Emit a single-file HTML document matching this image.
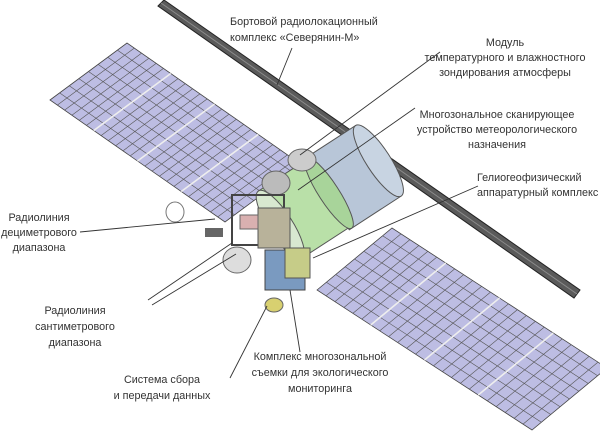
<!DOCTYPE html>
<html><head><meta charset="utf-8"><style>
body{margin:0;background:#fff;width:600px;height:439px;overflow:hidden}
svg{display:block}
text{font-family:"Liberation Sans","DejaVu Sans",sans-serif;font-size:10.8px;fill:#333}
</style></head><body>
<svg id="s" width="600" height="439" viewBox="0 0 600 439">
<g id="panels"></g>
<g>
<polygon points="158,6 164,0 580,290 574,298" fill="#5a5a5a" stroke="#222" stroke-width="1"/>
<line x1="161" y1="3" x2="577" y2="294" stroke="#8a8a8a" stroke-width="1"/>
</g>
<g>
<g transform="translate(318,200) rotate(-33)">
<rect x="10" y="-42" width="62" height="84" fill="#b8c6d8" stroke="#555"/>
<ellipse cx="72" cy="0" rx="12" ry="42" fill="#c8d4e2" stroke="#555"/>
<rect x="-45" y="-40" width="58" height="80" fill="#b9e0a8" stroke="#555"/>
<ellipse cx="13" cy="0" rx="10" ry="42" fill="#a8d49a" stroke="#555"/>
<ellipse cx="-45" cy="0" rx="12" ry="40" fill="#d8e8d0" stroke="#555"/>
</g>
<ellipse cx="302" cy="160" rx="14" ry="11" fill="#ccc" stroke="#666"/>
<ellipse cx="276" cy="183" rx="14" ry="12" fill="#bbb" stroke="#666"/>
<rect x="232" y="195" width="52" height="50" fill="none" stroke="#444" stroke-width="2"/>
<rect x="258" y="208" width="32" height="40" fill="#b8b29a" stroke="#555"/>
<rect x="240" y="215" width="18" height="14" fill="#d9b0b0" stroke="#666"/>
<ellipse cx="237" cy="260" rx="14" ry="13" fill="#ddd" stroke="#666"/>
<rect x="265" y="250" width="40" height="40" fill="#7a9ac0" stroke="#444"/>
<rect x="285" y="248" width="25" height="30" fill="#c6cc88" stroke="#555"/>
<ellipse cx="274" cy="305" rx="9" ry="7" fill="#d8d070" stroke="#666"/>
<ellipse cx="175" cy="212" rx="9" ry="10" fill="none" stroke="#777"/>
<rect x="205" y="228" width="18" height="9" fill="#666"/>
</g>
<g stroke="#333" stroke-width="0.9">
<line x1="292" y1="48" x2="277" y2="85"/>
<line x1="440" y1="52" x2="300" y2="155"/>
<line x1="415" y1="108" x2="298" y2="190"/>
<line x1="478" y1="186" x2="313" y2="258"/>
<line x1="80" y1="232" x2="215" y2="219"/>
<line x1="148" y1="300" x2="232" y2="243"/>
<line x1="152" y1="305" x2="236" y2="254"/>
<line x1="230" y1="378" x2="267" y2="306"/>
<line x1="300" y1="352" x2="290" y2="290"/>
</g>
<g><text x="230" y="25">Бортовой радиолокационный</text><text x="230" y="41">комплекс «Северянин-М»</text></g>
<g text-anchor="middle"><text x="505" y="46">Модуль</text><text x="505" y="61">температурного и влажностного</text><text x="505" y="76">зондирования атмосферы</text></g>
<g text-anchor="middle"><text x="497" y="118">Многозональное сканирующее</text><text x="497" y="133">устройство метеорологического</text><text x="497" y="148">назначения</text></g>
<g><text x="477" y="181">Гелиогеофизический</text><text x="477" y="196">аппаратурный комплекс</text></g>
<g text-anchor="middle"><text x="39" y="221">Радиолиния</text><text x="39" y="236">дециметрового</text><text x="39" y="251">диапазона</text></g>
<g text-anchor="middle"><text x="75" y="314">Радиолиния</text><text x="75" y="330">сантиметрового</text><text x="75" y="346">диапазона</text></g>
<g text-anchor="middle"><text x="162" y="383">Система сбора</text><text x="162" y="399">и передачи данных</text></g>
<g text-anchor="middle"><text x="320" y="360">Комплекс многозональной</text><text x="320" y="376">съемки для экологического</text><text x="320" y="392">мониторинга</text></g>
</svg>
<script>
const NS="http://www.w3.org/2000/svg";
const g=document.getElementById('panels');
function panel(name,o,u,v,nu,nv){
  const grp=document.createElementNS(NS,'g');
  
  
  const p=(a,b)=>[o[0]+u[0]*a+v[0]*b,o[1]+u[1]*a+v[1]*b];
  const poly=document.createElementNS(NS,'polygon');
  poly.setAttribute('points',[p(0,0),p(1,0),p(1,1),p(0,1)].map(q=>q.join(',')).join(' '));
  poly.setAttribute('fill','#bdbde3');poly.setAttribute('stroke','#444');poly.setAttribute('stroke-width','0.8');
  grp.appendChild(poly);
  function ln(a,b,w,c){const l=document.createElementNS(NS,'line');l.setAttribute('x1',a[0]);l.setAttribute('y1',a[1]);l.setAttribute('x2',b[0]);l.setAttribute('y2',b[1]);l.setAttribute('stroke',c);l.setAttribute('stroke-width',w);grp.appendChild(l);}
  for(let i=1;i<nu;i++)ln(p(i/nu,0),p(i/nu,1),0.6,'#555');
  for(let j=1;j<nv;j++){const major=j%(nv/4)===0;ln(p(0,j/nv),p(1,j/nv),major?1.6:0.6,major?'#eee':'#555');}
  g.appendChild(grp);
}
panel('left-solar-panel',[50,100],[77,-57],[175,122],8,24);
panel('right-solar-panel',[317,290],[75,-62],[215,140],8,24);
</script>
</body></html>
